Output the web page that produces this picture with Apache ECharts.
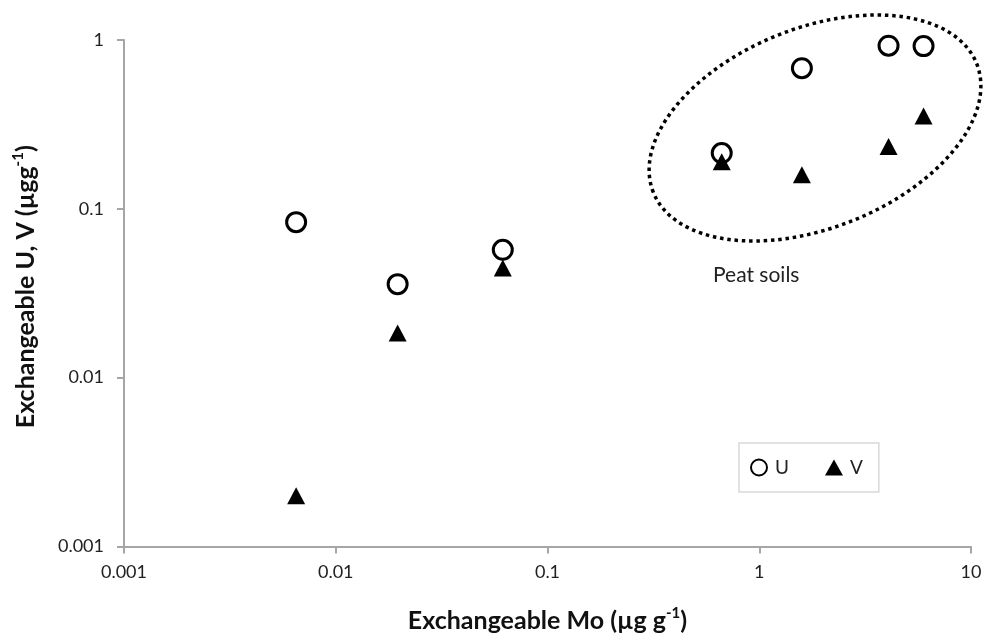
<!DOCTYPE html>
<html>
<head>
<meta charset="utf-8">
<script src="https://cdn.jsdelivr.net/npm/echarts@6/dist/echarts.min.js"></script>
<style>
    html, body { margin: 0; padding: 0; background: #fff; }
    #main { width: 985px; height: 638px; }
</style>
</head>
<body>
<div id="main"></div>
<script>
// exchangeable Mo (x) for each soil sample
var moValues = [0.0065, 0.0196, 0.0615, 0.665, 1.59, 4.08, 5.97];
// exchangeable U and V (y)
var uValues = [0.0834, 0.0358, 0.0572, 0.214, 0.681, 0.925, 0.92];
var vValues = [0.002, 0.0184, 0.0446, 0.19, 0.159, 0.234, 0.355];
var seriesNames = ['U', 'V'];
var peatLabel = 'Peat soils';

var fontName = 'Lato, "Open Sans", sans-serif';

function pairs(xs, ys) {
    var out = [];
    for (var i = 0; i < xs.length; i++) {
        out.push([xs[i], ys[i]]);
    }
    return out;
}

function tickText(v) {
    return String(+v.toPrecision(3));
}

var titleRich = {
    a: { fontSize: 25, fontWeight: 'bold', color: '#111', fontFamily: fontName, lineHeight: 30 },
    s: { fontSize: 15, fontWeight: 'bold', color: '#111', fontFamily: fontName, lineHeight: 30, verticalAlign: 'top', padding: [0, 0, 10, 0] }
};

var myChart = echarts.init(document.getElementById('main'));

var option = {
    backgroundColor: '#fff',
    animation: false,
    textStyle: { fontFamily: fontName },
    grid: { left: 124, right: 14, top: 40, bottom: 91 },
    legend: {
        left: 739,
        top: 443,
        orient: 'horizontal',
        padding: [15, 16, 15, 11],
        itemWidth: 18,
        itemHeight: 16,
        itemGap: 36,
        borderColor: '#d9d9d9',
        borderWidth: 1.5,
        textStyle: { fontSize: 19, color: '#222', fontFamily: fontName, padding: [0, 0, 0, 2] },
        data: seriesNames
    },
    xAxis: {
        type: 'log',
        logBase: 10,
        min: 0.001,
        max: 10,
        splitLine: { show: false },
        axisLine: { lineStyle: { color: '#a6a6a6', width: 2 } },
        axisTick: { show: true, length: 7, lineStyle: { color: '#a6a6a6', width: 2 } },
        axisLabel: { margin: 17, fontSize: 18, color: '#222', formatter: tickText },
        name: '{a|Exchangeable Mo (µg g}{s|-1}{a|)}',
        nameLocation: 'middle',
        nameGap: 59,
        nameTextStyle: { rich: titleRich }
    },
    yAxis: {
        type: 'log',
        logBase: 10,
        min: 0.001,
        max: 1,
        splitLine: { show: false },
        axisLine: { show: true, lineStyle: { color: '#a6a6a6', width: 2 } },
        axisTick: { show: true, length: 7, lineStyle: { color: '#a6a6a6', width: 2 } },
        axisLabel: { margin: 20, fontSize: 18, color: '#222', formatter: tickText },
        name: '{a|Exchangeable U, V (µgg}{s|-1}{a|)}',
        nameLocation: 'middle',
        nameRotate: 90,
        nameGap: 83,
        nameTextStyle: { rich: titleRich, padding: [0, 0, 0, 13] }
    },
    series: [
        {
            name: seriesNames[0],
            type: 'scatter',
            symbol: 'circle',
            symbolSize: 19,
            itemStyle: { color: '#fff', borderColor: '#000', borderWidth: 3, opacity: 1 },
            data: pairs(moValues, uValues)
        },
        {
            name: seriesNames[1],
            type: 'scatter',
            symbol: 'triangle',
            symbolSize: [18, 17],
            itemStyle: { color: '#000', opacity: 1 },
            data: pairs(moValues, vValues)
        }
    ],
    graphic: [
        {
            // dotted ring round the peat soil samples
            type: 'ellipse',
            x: 815,
            y: 128,
            rotation: 21.7 * Math.PI / 180,
            shape: { cx: 0, cy: 0, rx: 174, ry: 100 },
            style: { fill: null, stroke: '#000', lineWidth: 3.5, lineDash: [3.5, 3.8] },
            z: 10
        },
        {
            type: 'text',
            left: 713,
            top: 265,
            style: { text: peatLabel, fontSize: 21, fill: '#222', fontFamily: fontName },
            z: 10
        }
    ]
};

myChart.setOption(option);
</script>
</body>
</html>
